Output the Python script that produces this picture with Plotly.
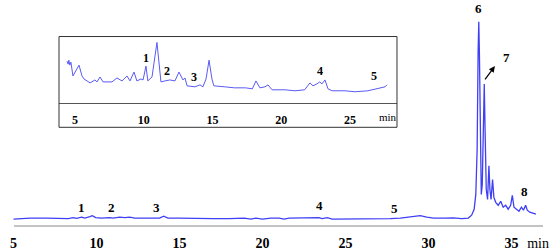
import plotly.graph_objects as go

# main chromatogram (time in min, signal in arbitrary units)
main_t = [5.0, 5.5, 6.0, 7.0, 8.0, 8.3, 8.6, 8.8, 9.1, 9.3, 9.6, 9.75, 9.95, 10.3, 10.8, 11.0,
          11.4, 11.7, 12.0, 12.3, 13.0, 13.8, 14.05, 14.3, 15.0, 16.0, 17.0, 18.0, 18.9, 19.3,
          19.6, 20.0, 20.5, 21.0, 21.3, 21.6, 22.5, 23.4, 23.6, 23.9, 24.2, 25.0, 26.0, 27.0,
          27.7, 28.3, 29.0, 29.5, 29.9, 30.3, 31.0, 31.5, 32.0, 32.4, 32.6, 32.75, 32.85, 32.93,
          32.99, 33.03, 33.07, 33.12, 33.18, 33.24, 33.31, 33.36, 33.41, 33.48, 33.56, 33.64,
          33.7, 33.77, 33.86, 33.94, 34.05, 34.2, 34.35, 34.5, 34.65, 34.8, 34.95, 35.05,
          35.15, 35.3, 35.45, 35.6, 35.72, 35.85, 35.95, 36.1, 36.25, 36.4, 36.47]
main_v = [0, 0.5, 1, 1, 1, 0.5, 1.5, 0.8, 2, 1, 2.5, 3.5, 1.5, 1, 1.5, 1,
          2, 1.5, 2, 1, 1, 1, 3, 1, 1, 0.5, 0.5, 0.5, 1, 0,
          1, 0, 1, 1, 0, 1, 1, 1.5, 0.5, 1.5, 0, 0, 0, 0,
          0.5, 1, 2.5, 3.5, 2, 1, 1, 1.2, 0.5, 1, 4, 10, 25, 70,
          170, 200, 165, 70, 25, 35, 110, 137, 90, 30, 20, 54,
          30, 20, 40, 22, 17, 14, 18, 12, 14, 10, 14, 24,
          12, 10, 8, 12, 9, 14, 9, 7, 6, 5, 5]

# inset: expanded 4-28 min region
inset_t = [4.42, 4.5, 4.55, 4.62, 4.7, 4.78, 4.85, 5.29, 5.51, 5.65, 5.87, 6.1, 6.45, 6.6,
           6.82, 7.04, 7.69, 8.05, 8.42, 8.78, 9.0, 9.29, 9.5, 9.8, 9.95, 10.16, 10.3, 10.6,
           10.96, 11.25, 11.55, 11.9, 12.27, 12.56, 12.85, 13.0, 13.15, 13.73, 14.09, 14.3,
           14.53, 14.75, 14.96, 15.1, 15.9, 16.6, 17.4, 17.9, 18.16, 18.45, 18.82, 19.04,
           19.33, 20.27, 21.0, 21.7, 22.09, 22.31, 22.6, 22.8, 22.96, 23.18, 23.4, 23.69,
           24.64, 25.36, 26.3, 27.04, 27.55, 27.69]
inset_v = [42, 39, 43, 38, 41, 30, 27, 38, 27, 24, 22, 20, 23, 21,
           26, 21, 21, 25, 22, 27, 22, 31, 22, 24, 23, 37, 22, 26,
           61, 21, 22, 23, 22, 31, 23, 25, 17, 16, 18, 16,
           24, 43, 24, 17, 16, 15, 15, 14, 22, 15, 16, 18,
           13, 13, 12, 13, 20, 17, 19, 21, 19, 23, 14, 12,
           12, 11, 12, 14, 16, 18]

main_ticks = [5, 10, 15, 20, 25, 30, 35]
inset_ticks = [5, 10, 15, 20, 25]

main_labels = ["1", "2", "3", "4", "5", "6", "8"]
main_label_t = [9.07, 10.93, 13.64, 23.46, 27.98, 33.04, 35.81]
main_label_v = [12, 12, 12, 14, 11, 213, 28]

inset_labels = ["1", "2", "3", "4", "5"]
inset_label_t = [10.16, 11.69, 13.65, 22.82, 26.75]
inset_label_v = [45, 32, 26, 32, 27]

serif = "Liberation Serif"
blue = "#3f3ff5"

fig = go.Figure()
fig.add_trace(go.Scatter(x=main_t, y=main_v, mode="lines",
                         line=dict(color=blue, width=1.3), xaxis="x", yaxis="y"))
fig.add_trace(go.Scatter(x=inset_t, y=inset_v, mode="lines",
                         line=dict(color="#5a5af5", width=1), xaxis="x2", yaxis="y2"))

annotations = []
for txt, t, v in zip(main_labels, main_label_t, main_label_v):
    annotations.append(dict(x=t, y=v, xref="x", yref="y", text=txt, showarrow=False,
                            font=dict(family=serif, size=13, color="black", weight="bold")))
for txt, t, v in zip(inset_labels, inset_label_t, inset_label_v):
    annotations.append(dict(x=t, y=v, xref="x2", yref="y2", text=txt, showarrow=False,
                            font=dict(family=serif, size=12, color="black", weight="bold")))
# peak 7 with arrow
annotations.append(dict(x=34.0, y=155, ax=33.34, ay=140, xref="x", yref="y",
                        axref="x", ayref="y", text="", showarrow=True,
                        arrowhead=2, arrowsize=1, arrowwidth=1.2, arrowcolor="black"))
annotations.append(dict(x=34.67, y=164, xref="x", yref="y", text="7", showarrow=False,
                        font=dict(family=serif, size=13, color="black", weight="bold")))
# inset unit label
annotations.append(dict(x=0.7055, y=0.4803, xref="paper", yref="paper", text="min",
                        xanchor="center", yanchor="middle",
                        showarrow=False, font=dict(family=serif, size=11, color="black")))

# "min" unit sits in the tick-label row of the main axis
tick_pos = main_ticks + [36.6]
tick_txt = [str(v) for v in main_ticks] + ["<span style='font-weight:normal'>min</span>"]

fig.update_layout(
    width=550, height=251,
    margin=dict(l=0, r=0, t=0, b=22),
    paper_bgcolor="white", plot_bgcolor="white",
    showlegend=False,
    xaxis=dict(range=[4.187, 37.32], tickvals=tick_pos, ticktext=tick_txt,
               showgrid=False, zeroline=False,
               showline=False, ticks="outside", ticklen=4, tickcolor="rgba(0,0,0,0)",
               tickfont=dict(family=serif, size=14, color="black", weight="bold")),
    yaxis=dict(range=[-7, 222], visible=False),
    xaxis2=dict(domain=[0.1073, 0.7218], range=[3.836, 28.42], tickvals=inset_ticks,
                anchor="y2", showgrid=False, zeroline=False, showline=True,
                linecolor="#555555", linewidth=1, ticks="outside", ticklen=6,
                tickcolor="rgba(0,0,0,0)",
                tickfont=dict(family=serif, size=12, color="black", weight="bold")),
    yaxis2=dict(domain=[0.5459, 0.8384], range=[0, 67], anchor="x2", visible=False),
    annotations=annotations,
    shapes=[
        dict(type="line", xref="x", yref="paper", x0=5.03, x1=36.9, y0=0, y1=0,
             line=dict(color="#888888", width=1)),
        dict(type="rect", xref="paper", yref="paper", x0=0.1073, x1=0.7218,
             y0=0.4367, y1=0.8384, line=dict(color="#333333", width=1)),
    ],
)

# page body has a default margin; drop it so the figure sits at the window origin
fig.write_html("out.html", config={"displayModeBar": False},
               post_script="document.body.style.margin='0';")
